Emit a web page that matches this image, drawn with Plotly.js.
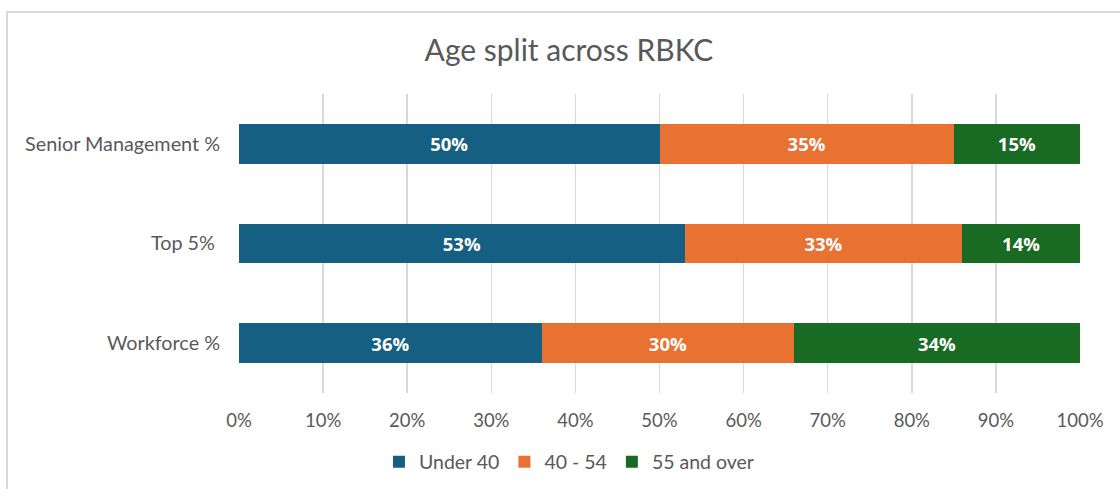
<!DOCTYPE html>
<html>
<head>
<meta charset="utf-8">
<script src="https://cdn.plot.ly/plotly-3.0.1.min.js"></script>
<style>
  html, body { margin: 0; padding: 0; background: #ffffff; }
  #wrap { position: relative; width: 1120px; height: 489px; }
  #chart { width: 1120px; height: 489px; }
  #frame {
    position: absolute; left: 6px; top: 11px; right: -4px; bottom: -4px;
    border-left: 2px solid #d9d9d9; border-top: 2px solid #d9d9d9;
    pointer-events: none;
  }
</style>
</head>
<body>
<div id="wrap">
  <div id="chart"></div>
  <div id="frame"></div>
</div>
<script>
// Groups shown on the vertical axis (top to bottom)
const groups = ["Senior Management %", "Top 5% ", "Workforce %"];

// Share of each age band per group, in percent
const under40 = [50, 53, 36];
const age40to54 = [35, 33, 30];
const age55plus = [15, 14, 34];

const seriesNames = ["Under 40", "40 - 54", "55 and over"];
const seriesColors = ["#156082", "#E97132", "#196B24"];
const seriesValues = [under40, age40to54, age55plus];

const xTicks = [0, 10, 20, 30, 40, 50, 60, 70, 80, 90, 100];

const baseFont = "Lato, 'Open Sans', sans-serif";

const traces = seriesValues.map((vals, i) => ({
  type: "bar",
  orientation: "h",
  name: seriesNames[i],
  y: groups,
  x: vals,
  marker: { color: seriesColors[i], line: { width: 0 } },
  text: vals.map(v => v + "%"),
  textposition: "inside",
  insidetextanchor: "middle",
  textangle: 0,
  constraintext: "none",
  textfont: { family: "'Open Sans', sans-serif", size: 18.5, color: "#ffffff", weight: "bold" },
  hoverinfo: "x+y+name"
}));

const layout = {
  width: 1120,
  height: 489,
  barmode: "stack",
  bargap: 0.6,
  paper_bgcolor: "#ffffff",
  plot_bgcolor: "#ffffff",
  margin: { l: 239, r: 40, t: 94, b: 96 },
  title: {
    text: "Age split across RBKC",
    font: { family: baseFont, size: 30, color: "#595959" },
    x: 0.508, xanchor: "center",
    y: 1 - 50 / 489, yanchor: "middle"
  },
  xaxis: {
    range: [0, 100],
    tickvals: xTicks,
    ticktext: xTicks.map(t => t + "%"),
    showgrid: true,
    gridcolor: "#d9d9d9",
    gridwidth: 1.5,
    zeroline: false,
    showline: false,
    ticks: "",
    ticklabelstandoff: 14,
    tickfont: { family: baseFont, size: 18.5, color: "#595959" },
    fixedrange: true
  },
  yaxis: {
    autorange: "reversed",
    showgrid: false,
    zeroline: false,
    showline: false,
    ticks: "",
    ticklabelstandoff: 18,
    tickfont: { family: baseFont, size: 19.8, color: "#595959" },
    fixedrange: true
  },
  showlegend: true,
  legend: {
    orientation: "h",
    xref: "container", yref: "container",
    x: 0.508, xanchor: "center",
    y: 1 - 462 / 489, yanchor: "middle",
    font: { family: baseFont, size: 19.5, color: "#595959" },
    itemsizing: "constant",
    itemwidth: 30,
    traceorder: "normal"
  }
};

Plotly.newPlot("chart", traces, layout, { displayModeBar: false, staticPlot: true });
</script>
</body>
</html>
